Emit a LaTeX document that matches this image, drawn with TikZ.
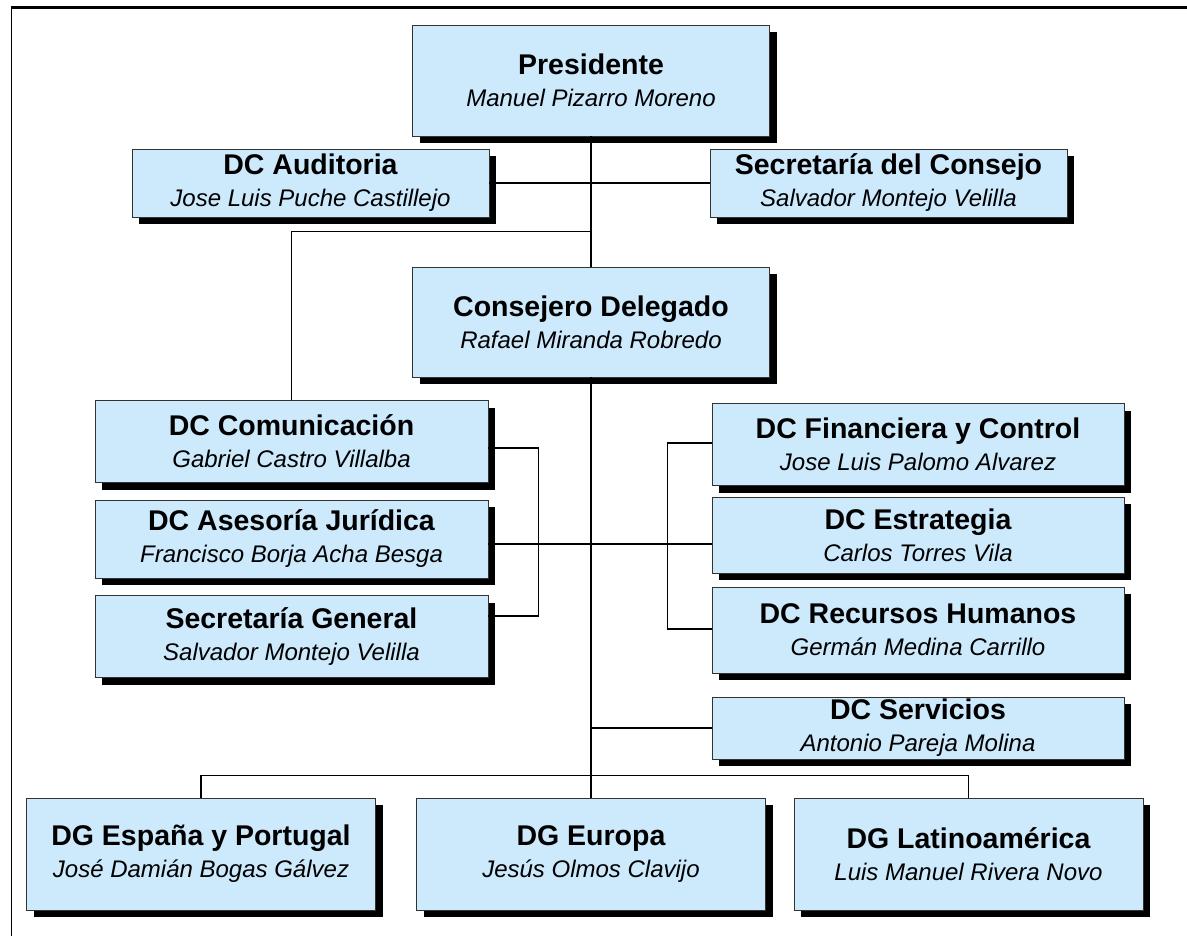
\documentclass[tikz,border=0pt]{standalone}
\usepackage{fontspec}
\setmainfont{Liberation Sans}
\usetikzlibrary{positioning, shadows}
\definecolor{boxblue}{RGB}{205,233,252}
\newcommand{\unittitle}[1]{{\fontsize{28.5}{32}\selectfont\upshape\bfseries #1}}
\tikzstyle{unit} = [rectangle, draw=black!80, line width=0.9pt, fill=boxblue, align=center, inner sep=0pt, font=\fontsize{24}{32}\selectfont\itshape, drop shadow={shadow xshift=7pt, shadow yshift=-7pt, fill=black, opacity=1}]
\tikzstyle{head} = [unit, minimum width=357pt, minimum height=111pt]
\tikzstyle{staff} = [unit, minimum width=357pt, minimum height=68pt]
\tikzstyle{leftdir} = [unit, minimum width=393pt, minimum height=82pt]
\tikzstyle{rightdir} = [unit, minimum width=412pt, minimum height=82pt]
\tikzstyle{region} = [unit, minimum width=349pt, minimum height=112pt]
\tikzstyle{link} = [line width=1.3pt, black]

\begin{document}
\begin{tikzpicture}[x=1pt, y=1pt]
    \useasboundingbox (0,0) rectangle (1187,-936);
    % frame
    \draw [line width=3pt] (11,-7.5) -- (1187,-7.5);
    \draw [line width=1.6pt] (11.5,-7.5) -- (11.5,-936);

    \node (pres) [head] at (591,-80.5) {\unittitle{Presidente}\\Manuel Pizarro Moreno};
    \node (aud) [staff, node distance=102.5pt, below of=pres, xshift=-280.5pt] {\unittitle{DC Auditoria}\\Jose Luis Puche Castillejo};
    \node (secc) [staff, node distance=102.5pt, below of=pres, xshift=297.5pt] {\unittitle{Secretaría del Consejo}\\Salvador Montejo Velilla};
    \node (cons) [head, node distance=241.5pt, below of=pres, minimum height=110pt] {\unittitle{Consejero Delegado}\\Rafael Miranda Robredo};
    \node (com) [leftdir, node distance=119.5pt, below of=cons, xshift=-299.5pt] {\unittitle{DC Comunicación}\\Gabriel Castro Villalba};
    \node (ase) [leftdir, node distance=97.5pt, below of=com, minimum height=78pt] {\unittitle{DC Asesoría Jurídica}\\Francisco Borja Acha Besga};
    \node (sgen) [leftdir, node distance=97.5pt, below of=ase] {\unittitle{Secretaría General}\\Salvador Montejo Velilla};
    \node (fin) [rightdir, node distance=122.5pt, below of=cons, xshift=327pt] {\unittitle{DC Financiera y Control}\\Jose Luis Palomo Alvarez};
    \node (est) [rightdir, node distance=90.5pt, below of=fin, minimum height=76pt] {\unittitle{DC Estrategia}\\Carlos Torres Vila};
    \node (rh) [rightdir, node distance=95pt, below of=est, minimum height=86pt] {\unittitle{DC Recursos Humanos}\\Germán Medina Carrillo};
    \node (serv) [rightdir, node distance=98pt, below of=rh, minimum height=62pt] {\unittitle{DC Servicios}\\Antonio Pareja Molina};
    \node (eur) [region, node distance=532pt, below of=cons] {\unittitle{DG Europa}\\Jesús Olmos Clavijo};
    \node (esp) [region, node distance=390pt, left of=eur] {\unittitle{DG España y Portugal}\\José Damián Bogas Gálvez};
    \node (lat) [region, node distance=377.5pt, right of=eur] {\unittitle{DG Latinoamérica}\\Luis Manuel Rivera Novo};

    \draw [link] (pres) -- (cons);
    \draw [link] (aud) -- (secc);
    \draw [link] (com.north) |- ([yshift=35pt]cons.north);
    \draw [link] (cons) -- (eur);
    \draw [link] ([yshift=-6.5pt]com.east) -- ++(50pt,0) |- ([yshift=20.5pt]sgen.east);
    \draw [link] ([yshift=-5pt]ase.east) -- ([yshift=-9pt]est.west);
    \draw [link] ([yshift=1.5pt]fin.west) -- ++(-44pt,0) |- ([yshift=1pt]rh.west);
    \draw [link] (serv.west) -- (serv.west -| cons.south);
    \draw [link] (esp.north) |- ([yshift=22pt]eur.north) -| (lat.north);
\end{tikzpicture}
\end{document}
